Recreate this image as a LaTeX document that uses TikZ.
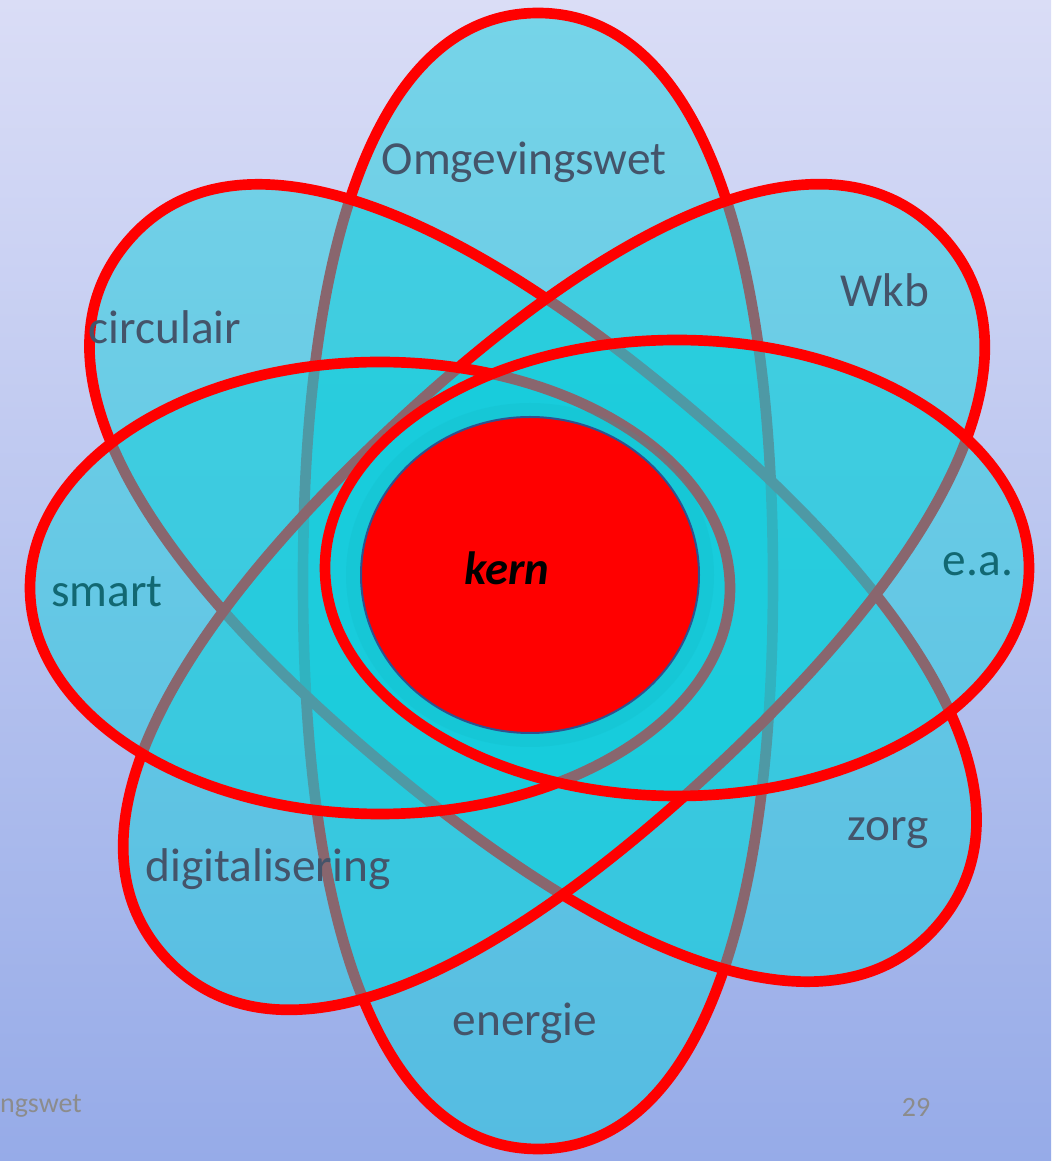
\documentclass[tikz,border=0pt]{standalone}
\usepackage{fontspec}
\setmainfont{Carlito}
\usetikzlibrary{positioning}

\definecolor{bgtop}{RGB}{218,221,246}
\definecolor{bgbottom}{RGB}{150,171,232}
\definecolor{petalfill}{RGB}{20,205,220}
\definecolor{labeltext}{RGB}{68,84,106}
\definecolor{labelteal}{RGB}{18,104,114}
\definecolor{footgrey}{RGB}{140,140,140}
\definecolor{kernline}{RGB}{47,82,143}

% long petal: centre x, centre y, half length, half width, angle
\newcommand{\fatpetal}[5]{%
	\draw[petal,shift={(#1,#2)},rotate=#5]
		(#3,0) .. controls (#3,0.64*#4) and (0.64*#3,#4) .. (0,#4)
		.. controls (-0.64*#3,#4) and (-#3,0.64*#4) .. (-#3,0)
		.. controls (-#3,-0.64*#4) and (-0.64*#3,-#4) .. (0,-#4)
		.. controls (0.64*#3,-#4) and (#3,-0.64*#4) .. (#3,0) -- cycle;}

\begin{document}
\begin{tikzpicture}[
		x=0.75pt, y=0.75pt,
		petal/.style={draw=red,line width=8pt,fill=petalfill,fill opacity=0.5},
		lbl/.style={text=labeltext,font=\fontsize{35.5}{40}\selectfont,anchor=base,inner sep=0pt},
		foot/.style={text=footgrey,font=\fontsize{21}{24}\selectfont,anchor=base,inner sep=0pt}]

		% background
		\shade[top color=bgtop,bottom color=bgbottom] (0,0) rectangle (1051,1161);
		\useasboundingbox (0,0) rectangle (1051,1161);

		% petals, lowest first
		\fatpetal{538}{580}{568}{235}{90}
		\fatpetal{533}{578}{530}{235}{-40}
		\fatpetal{554}{564}{530}{235}{43}
		\draw[petal] (380,573) ellipse [x radius=350,y radius=226];
		\draw[petal] (677,593) ellipse [x radius=352,y radius=228];

		\node[lbl] (omgevingswet) at (524,986) {Omgevingswet};
		\node[lbl] (wkb) at (885,854) {Wkb};
		\node[lbl] (circulair) at (165,817) {circulair};
		\node[lbl,text=labelteal] (smart) at (107,554) {smart};
		\node[lbl,text=labelteal] (ea) at (978,585) {e.a.};
		\node[lbl] (zorg) at (888,320) {zorg};
		\node[lbl] (digitalisering) at (268,279) {digitalisering};
		\node[lbl] (energie) at (525,125) {energie};

		% kern
		\fill[petalfill!60!teal,opacity=0.15] (530,586) ellipse [x radius=184,y radius=172];
		\draw[kernline,line width=1.5pt,fill=red] (530,586) ellipse [x radius=169,y radius=158];
		\node[anchor=base,inner sep=0pt,font=\fontsize{35}{40}\selectfont\bfseries\itshape] (kern) at (507,576) {kern};

		% footer
		\node[foot,anchor=base east] (footer) at (82,48) {ngswet};
		\node[foot] (pagenr) at (916,44) {29};
	\end{tikzpicture}
\end{document}
